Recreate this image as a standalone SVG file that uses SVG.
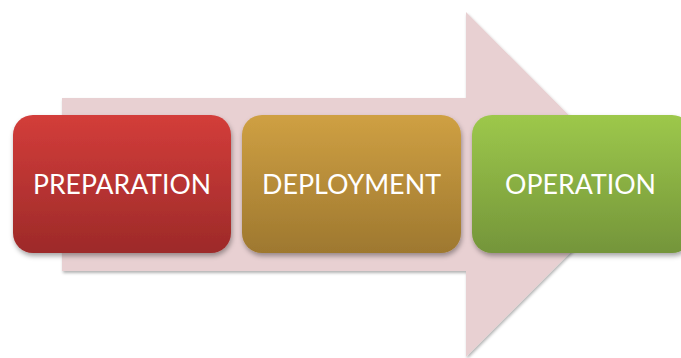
<svg xmlns="http://www.w3.org/2000/svg" width="681" height="358" viewBox="0 0 681 358">
<defs>
<linearGradient id="gRed" x1="0" y1="0" x2="0" y2="1"><stop offset="0" stop-color="#d33d3a"/><stop offset="1" stop-color="#9d2a29"/></linearGradient>
<linearGradient id="gGold" x1="0" y1="0" x2="0" y2="1"><stop offset="0" stop-color="#cfa043"/><stop offset="1" stop-color="#9e782f"/></linearGradient>
<linearGradient id="gGreen" x1="0" y1="0" x2="0" y2="1"><stop offset="0" stop-color="#9dc84b"/><stop offset="1" stop-color="#74953a"/></linearGradient>
<filter id="sh" x="-10%" y="-10%" width="125%" height="130%"><feDropShadow dx="1" dy="3" stdDeviation="2.5" flood-color="#000" flood-opacity="0.35"/></filter>
<filter id="sha" x="-10%" y="-10%" width="125%" height="125%"><feDropShadow dx="1" dy="2" stdDeviation="1.5" flood-color="#000" flood-opacity="0.3"/></filter>
</defs>
<style>
.lbl{font-family:Lato,"Open Sans","Liberation Sans",sans-serif;font-size:26px;fill:#fff;text-anchor:middle}
</style>
<g id="arrow">
<polygon points="62,98 466,98 466,12 638,184.5 466,357 466,271 62,271" fill="#e8d0d2" filter="url(#sha)"/>
</g>
<g id="connectors"></g>
<g id="preparation">
<rect x="13" y="115" width="218" height="138" rx="20" fill="url(#gRed)" filter="url(#sh)"/>
<text class="lbl" x="122" y="194" textLength="178" lengthAdjust="spacingAndGlyphs">PREPARATION</text>
</g>
<g id="deployment">
<rect x="242" y="115" width="219" height="138" rx="20" fill="url(#gGold)" filter="url(#sh)"/>
<text class="lbl" x="351.5" y="194" textLength="179" lengthAdjust="spacingAndGlyphs">DEPLOYMENT</text>
</g>
<g id="operation">
<rect x="472" y="115" width="220" height="138" rx="20" fill="url(#gGreen)" filter="url(#sh)"/>
<text class="lbl" x="580.5" y="194" textLength="151" lengthAdjust="spacingAndGlyphs">OPERATION</text>
</g>
</svg>
